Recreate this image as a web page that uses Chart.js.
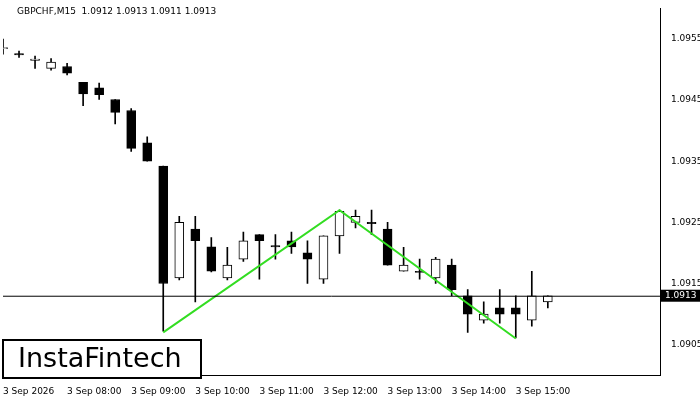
<!DOCTYPE html>
<html>
<head>
<script src="https://cdn.jsdelivr.net/npm/chart.js@4"></script>
<style>
  body { margin: 0; background: #fff; }
  #wrap { width: 700px; height: 400px; }
</style>
</head>
<body>
<div id="wrap"><canvas id="c" width="700" height="400"></canvas></div>
<script>
// GBPCHF M15 candles, 3 Sep 2026 from 07:00
const times = ['07:00','07:15','07:30','07:45','08:00','08:15','08:30','08:45','09:00','09:15','09:30','09:45',
  '10:00','10:15','10:30','10:45','11:00','11:15','11:30','11:45','12:00','12:15','12:30','12:45',
  '13:00','13:15','13:30','13:45','14:00','14:15','14:30','14:45','15:00','15:15','15:30'];
const opens  = [1.09534,1.09526,1.09515,1.09502,1.09505,1.09479,1.09470,1.09451,1.09433,1.09380,1.09342,1.09159,
  1.09239,1.09210,1.09159,1.09190,1.09230,1.09212,1.09220,1.09200,1.09157,1.09228,1.09250,1.09250,
  1.09239,1.09170,1.09170,1.09159,1.09180,1.09130,1.09090,1.09110,1.09110,1.09090,1.09120];
const closes = [1.09536,1.09524,1.09517,1.09512,1.09494,1.09460,1.09459,1.09430,1.09371,1.09350,1.09150,1.09250,
  1.09220,1.09170,1.09180,1.09220,1.09220,1.09210,1.09210,1.09190,1.09228,1.09268,1.09260,1.09248,
  1.09180,1.09180,1.09168,1.09190,1.09140,1.09100,1.09100,1.09100,1.09100,1.09130,1.09130];
const highs  = [1.09550,1.09530,1.09522,1.09518,1.09510,1.09478,1.09478,1.09451,1.09436,1.09390,1.09342,1.09260,
  1.09260,1.09225,1.09209,1.09234,1.09230,1.09230,1.09234,1.09220,1.09228,1.09270,1.09270,1.09270,
  1.09250,1.09209,1.09190,1.09193,1.09190,1.09140,1.09120,1.09140,1.09130,1.09170,1.09130];
const lows   = [1.09525,1.09520,1.09502,1.09499,1.09491,1.09441,1.09451,1.09411,1.09366,1.09350,1.09072,1.09156,
  1.09120,1.09169,1.09156,1.09186,1.09157,1.09190,1.09199,1.09150,1.09150,1.09199,1.09241,1.09230,
  1.09180,1.09170,1.09157,1.09150,1.09130,1.09070,1.09085,1.09085,1.09061,1.09080,1.09110];
const pattern = [[10, 1.09070], [21, 1.09270], [32, 1.09060]];
const yTicks = [1.0905, 1.0915, 1.0925, 1.0935, 1.0945, 1.0955];
const lastPrice = 1.0913;
const emptySlots = 7; // space right of the last candle

const labels = times.map((t, i) => i === 0 ? '3 Sep 2026' : '3 Sep ' + t);
for (let i = 0; i < emptySlots; i++) labels.push('');
const wicks = lows.map((l, i) => [l, highs[i]]);
const bodies = opens.map((o, i) => o === closes[i] ? [o - 0.000008, o + 0.000008] : [o, closes[i]]);
const bodyFill = opens.map((o, i) => closes[i] > o ? '#ffffff' : '#000000');
const patternLine = labels.map(() => null);
pattern.forEach(p => { patternLine[p[0]] = p[1]; });

const overlay = {
  id: 'overlay',
  afterDraw(chart) {
    const ctx = chart.ctx, a = chart.chartArea, y = chart.scales.y;
    ctx.save();
    // current price line
    const py = y.getPixelForValue(lastPrice);
    ctx.strokeStyle = '#000'; ctx.lineWidth = 1;
    ctx.beginPath(); ctx.moveTo(a.left, py + 0.5); ctx.lineTo(a.right, py + 0.5); ctx.stroke();
    ctx.fillStyle = '#000';
    ctx.fillRect(a.right + 1, py - 6, 40, 12);
    ctx.fillStyle = '#fff'; ctx.font = '9px "DejaVu Sans"'; ctx.textBaseline = 'middle';
    ctx.fillText(lastPrice.toFixed(4), a.right + 5, py);
    // header
    ctx.fillStyle = '#000'; ctx.textBaseline = 'top';
    ctx.fillText('GBPCHF,M15  1.0912 1.0913 1.0911 1.0913', 17, 7);
    // logo box
    ctx.fillStyle = '#fff'; ctx.fillRect(3, 340, 198, 38);
    ctx.strokeStyle = '#000'; ctx.lineWidth = 2; ctx.strokeRect(3, 340, 198, 38);
    ctx.fillStyle = '#000'; ctx.font = '27px "DejaVu Sans"'; ctx.textBaseline = 'middle';
    ctx.fillText('InstaFintech', 18, 360);
    ctx.restore();
  }
};

new Chart(document.getElementById('c'), {
  data: {
    labels: labels,
    datasets: [
      { type: 'line', data: patternLine, spanGaps: true, borderColor: '#33dd22', borderWidth: 2,
        pointRadius: 0, order: 0 },
      { type: 'bar', data: bodies, backgroundColor: bodyFill, borderColor: '#000', borderWidth: 1,
        borderSkipped: false, barThickness: 9, grouped: false, order: 1 },
      { type: 'bar', data: wicks, backgroundColor: '#000', barThickness: 1, grouped: false, order: 2 }
    ]
  },
  options: {
    responsive: false,
    animation: false,
    layout: { padding: { top: 5, left: 0, right: 0 } },
    plugins: { legend: { display: false }, tooltip: { enabled: false } },
    scales: {
      x: {
        offset: false,
        grid: { display: false },
        border: { color: '#000' },
        ticks: {
          autoSkip: false, maxRotation: 0, align: 'start', color: '#000',
          font: { size: 9, family: 'DejaVu Sans' },
          callback: (v, i) => (i % 4 === 0 && i < times.length) ? labels[i] : ''
        }
      },
      y: {
        position: 'right',
        min: 1.0900, max: 1.0960,
        grid: { display: false },
        border: { color: '#000' },
        afterBuildTicks: s => { s.ticks = yTicks.map(v => ({ value: v })); },
        afterFit: s => { s.width = 40; },
        ticks: { color: '#000', font: { size: 9, family: 'DejaVu Sans' }, callback: v => v.toFixed(4) }
      }
    }
  },
  plugins: [overlay]
});
</script>
</body>
</html>
